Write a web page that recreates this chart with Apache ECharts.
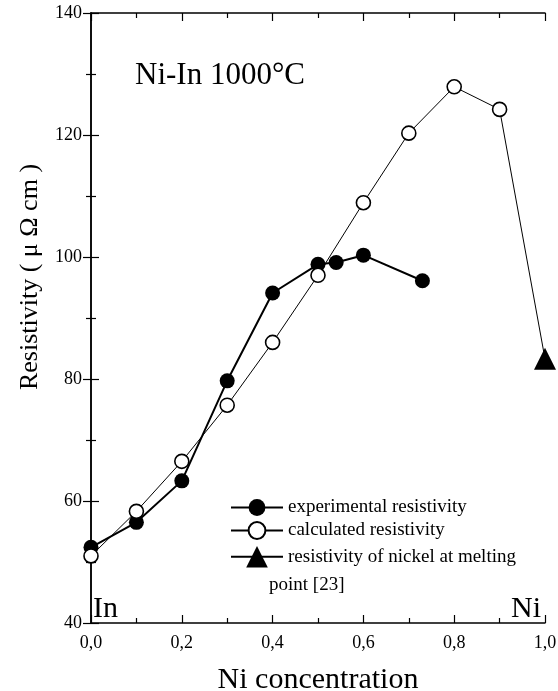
<!DOCTYPE html>
<html>
<head>
<meta charset="utf-8">
<script src="https://cdn.jsdelivr.net/npm/echarts@6/dist/echarts.min.js"></script>
<style>html,body{margin:0;padding:0;background:#fff;}#c{width:558px;height:691px;}</style>
</head>
<body>
<div id="c"></div>
<script>
// Data
var expX = [0.0, 0.1, 0.2, 0.3, 0.4, 0.5, 0.54, 0.6, 0.73];
var expY = [52.4, 56.5, 63.3, 79.7, 94.1, 98.8, 99.1, 100.3, 96.1];
var calcX = [0.0, 0.1, 0.2, 0.3, 0.4, 0.5, 0.6, 0.7, 0.8, 0.9, 1.0];
var calcY = [51.0, 58.3, 66.5, 75.7, 86.0, 97.0, 108.9, 120.3, 127.9, 124.2, 83.3];
var niX = [1.0];
var niY = [83.3];
var seriesNames = ['experimental resistivity', 'calculated resistivity', 'resistivity of nickel at melting'];

var FONT = 'Liberation Serif';
function pairs(xs, ys) { return xs.map(function (x, i) { return [x, ys[i]]; }); }
var calcData = pairs(calcX, calcY).map(function (p, i) {
  return i === calcX.length - 1 ? { value: p, symbol: 'none' } : p;
});

var chart = echarts.init(document.getElementById('c'), null, { renderer: 'canvas' });
var axisLine = { show: true, lineStyle: { color: '#000', width: 1.5 } };
var tick = { show: true, inside: false, length: -8, lineStyle: { color: '#000', width: 1.2 } };
var minor = { show: true, splitNumber: 2, length: -5, lineStyle: { color: '#000', width: 1.2 } };
chart.setOption({
  animation: false,
  backgroundColor: '#fff',
  grid: { left: 91, right: 13, top: 13, bottom: 68, containLabel: false, outerBoundsMode: 'none' },
  xAxis: [{
    type: 'value', min: 0, max: 1, interval: 0.2, position: 'bottom',
    name: 'Ni concentration', nameLocation: 'middle', nameGap: 42,
    nameTextStyle: { fontFamily: FONT, fontSize: 30, color: '#000' },
    axisLine: axisLine, axisTick: tick, minorTick: minor,
    axisLabel: { fontFamily: FONT, fontSize: 18, color: '#000', margin: 11,
      formatter: function (v) { return v.toFixed(1).replace('.', ','); } },
    splitLine: { show: false }
  }, {
    type: 'value', min: 0, max: 1, interval: 0.2, position: 'top',
    axisLine: axisLine, axisTick: tick, minorTick: minor,
    axisLabel: { show: false }, splitLine: { show: false }
  }],
  yAxis: [{
    type: 'value', min: 40, max: 140, interval: 20, position: 'left',
    name: 'Resistivity ( \u03bc \u03a9 cm )', nameLocation: 'middle', nameGap: 48, nameRotate: 90,
    nameTextStyle: { fontFamily: FONT, fontSize: 26, color: '#000', padding: [0, 0, 0, 82] },
    axisLine: axisLine, axisTick: tick, minorTick: minor,
    axisLabel: { fontFamily: FONT, fontSize: 18, color: '#000', margin: 9 },
    splitLine: { show: false }
  }, {
    type: 'value', min: 40, max: 140, interval: 20, position: 'right',
    axisLine: axisLine, axisTick: tick, minorTick: minor,
    axisLabel: { show: false }, splitLine: { show: false }
  }],
  legend: [{
    data: [seriesNames[0], seriesNames[1]],
    orient: 'vertical', left: 230, top: 498, padding: 0,
    itemWidth: 52, itemHeight: 21, itemGap: 4,
    textStyle: { fontFamily: FONT, fontSize: 19, color: '#000' }
  }, {
    data: [seriesNames[2]],
    orient: 'vertical', left: 230, top: 546, padding: 0,
    itemWidth: 52, itemHeight: 27, itemGap: 4,
    textStyle: { fontFamily: FONT, fontSize: 19, color: '#000' }
  }],
  graphic: [
    { type: 'text', left: 135, top: 60, style: { text: 'Ni-In 1000\u00b0C', fontFamily: FONT, fontSize: 31, fill: '#000' } },
    { type: 'text', left: 93, top: 594, style: { text: 'In', fontFamily: FONT, fontSize: 30, fill: '#000' } },
    { type: 'text', right: 17, top: 594, style: { text: 'Ni', fontFamily: FONT, fontSize: 30, fill: '#000' } },
    { type: 'text', left: 269, top: 576, style: { text: 'point [23]', fontFamily: FONT, fontSize: 19, fill: '#000' } }
  ],
  series: [{
    name: seriesNames[0], type: 'line', clip: false,
    data: pairs(expX, expY),
    symbol: 'circle', symbolSize: 15,
    itemStyle: { color: '#000' },
    lineStyle: { color: '#000', width: 2 }, z: 3
  }, {
    name: seriesNames[1], type: 'line', clip: false,
    data: calcData,
    symbol: 'circle', symbolSize: 14,
    itemStyle: { color: '#fff', borderColor: '#000', borderWidth: 1.6 },
    lineStyle: { color: '#000', width: 1 }, z: 4
  }, {
    name: seriesNames[2], type: 'line', clip: false,
    data: pairs(niX, niY),
    symbol: 'triangle', symbolSize: 22,
    itemStyle: { color: '#000' },
    lineStyle: { color: '#000', width: 1 }, z: 5
  }]
});
</script>
</body>
</html>
